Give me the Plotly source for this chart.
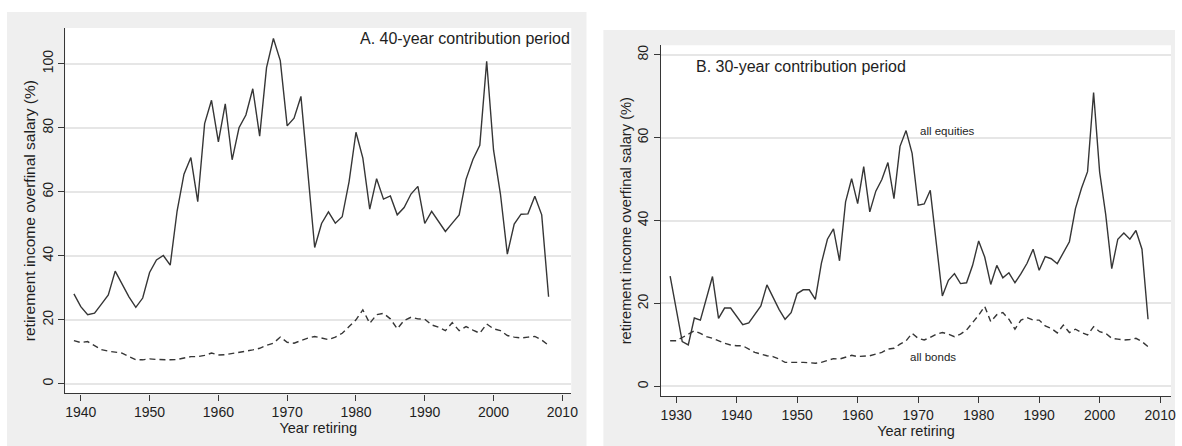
import plotly.graph_objects as go

# ---------------- data ----------------
years_a = list(range(1939, 2009))
equities_a = [28.1, 24.1, 21.6, 22.1, 24.9, 27.8, 35.2, 31.2, 27.2, 23.9,
              26.8, 34.8, 38.7, 40.1, 37.1, 54.0, 65.5, 70.7, 56.9, 81.3,
              88.6, 75.6, 87.5, 70.0, 80.0, 84.0, 92.2, 77.4, 98.8, 107.9,
              101.0, 80.6, 83.0, 89.8, 66.5, 42.6, 50.1, 53.7, 50.2, 52.2,
              63.2, 78.6, 70.5, 54.6, 64.1, 57.7, 58.7, 52.8, 55.1, 59.3,
              61.7, 50.1, 53.9, 50.9, 47.6, 50.2, 52.8, 63.9, 70.1, 74.5,
              100.8, 73.0, 59.3, 40.5, 49.9, 53.0, 53.1, 58.6, 52.8, 27.2]
bonds_a = [13.5, 12.9, 13.2, 12.0, 10.7, 10.2, 9.8, 9.6, 8.5, 7.5,
           7.5, 7.8, 7.6, 7.5, 7.5, 7.6, 8.1, 8.5, 8.5, 8.9,
           9.6, 9.0, 9.1, 9.4, 9.8, 10.2, 10.6, 11.1, 12.0, 12.7,
           14.6, 13.0, 12.7, 13.5, 14.3, 14.8, 14.3, 13.8, 14.6, 15.8,
           17.9, 20.0, 23.1, 18.9, 21.6, 22.0, 20.3, 17.2, 19.8, 20.8,
           20.3, 20.2, 18.4, 17.7, 16.6, 19.1, 16.6, 17.9, 16.8, 15.8,
           18.7, 17.2, 16.6, 15.1, 14.6, 14.3, 14.6, 14.8, 13.7, 12.0]

years_b = list(range(1929, 2009))
equities_b = [26.6, 18.8, 10.8, 10.0, 16.5, 16.0, 21.3, 26.5, 16.4, 18.9,
              18.9, 16.8, 14.9, 15.3, 17.3, 19.4, 24.5, 21.4, 18.6, 16.2,
              17.8, 22.4, 23.3, 23.3, 21.0, 29.7, 35.5, 38.0, 30.3, 44.5,
              50.1, 44.1, 53.0, 42.1, 47.1, 49.9, 54.0, 45.3, 57.9, 61.7,
              56.2, 43.7, 44.0, 47.3, 34.3, 21.8, 25.6, 27.2, 24.8, 25.0,
              29.2, 35.1, 31.2, 24.6, 29.2, 26.2, 27.4, 25.0, 27.2, 29.7,
              33.1, 28.0, 31.3, 30.8, 29.6, 32.3, 34.9, 42.9, 47.8, 51.8,
              70.9, 51.7, 41.5, 28.4, 35.5, 37.0, 35.5, 37.6, 33.1, 16.2]
bonds_b = [11.0, 11.0, 11.8, 12.6, 13.4, 12.8, 12.0, 11.6, 11.0, 10.4,
           10.0, 9.8, 9.8, 9.0, 8.2, 7.8, 7.4, 7.2, 6.6, 5.8,
           5.8, 5.9, 5.8, 5.7, 5.6, 5.8, 6.2, 6.7, 6.6, 7.1,
           7.5, 7.2, 7.3, 7.4, 7.8, 8.2, 9.0, 9.2, 10.2, 11.0,
           12.8, 11.6, 11.2, 11.8, 12.6, 13.0, 12.6, 12.0, 12.6, 13.6,
           15.4, 17.2, 19.3, 15.6, 17.3, 17.8, 16.2, 13.8, 16.0, 16.6,
           16.0, 16.0, 14.6, 14.0, 12.9, 14.8, 13.0, 13.8, 13.0, 12.4,
           14.4, 13.2, 12.8, 11.6, 11.4, 11.2, 11.3, 11.6, 10.8, 9.6]

xticks_a = [1940, 1950, 1960, 1970, 1980, 1990, 2000, 2010]
yticks_a = [0, 20, 40, 60, 80, 100]
xticks_b = [1930, 1940, 1950, 1960, 1970, 1980, 1990, 2000, 2010]
yticks_b = [0, 20, 40, 60, 80]

title_a = "A. 40-year contribution period"
title_b = "B. 30-year contribution period"
ytitle = "retirement income overfinal salary (%)"
xtitle = "Year retiring"

# ---------------- figure ----------------
W, H = 1182, 446
FONT = "Liberation Sans, Arial, sans-serif"
LINE = "#363636"
TXT = "#1e1e1e"
GRID = "#e6e6e6"
PANEL = "#efefef"

fig = go.Figure()
fig.add_trace(go.Scatter(x=years_a, y=equities_a, mode="lines",
                         line=dict(color=LINE, width=1.4), xaxis="x", yaxis="y",
                         showlegend=False, name="all equities"))
fig.add_trace(go.Scatter(x=years_a, y=bonds_a, mode="lines",
                         line=dict(color=LINE, width=1.4, dash="6px,4px"), xaxis="x", yaxis="y",
                         showlegend=False, name="all bonds"))
fig.add_trace(go.Scatter(x=years_b, y=equities_b, mode="lines",
                         line=dict(color=LINE, width=1.4), xaxis="x2", yaxis="y2",
                         showlegend=False, name="all equities"))
fig.add_trace(go.Scatter(x=years_b, y=bonds_b, mode="lines",
                         line=dict(color=LINE, width=1.4, dash="6px,4px"), xaxis="x2", yaxis="y2",
                         showlegend=False, name="all bonds"))

def xax(domain, rng, ticks, anchor, tsize):
    return dict(domain=domain, range=rng, anchor=anchor, tickvals=ticks,
                showgrid=False, zeroline=False, showline=True, linecolor=LINE, linewidth=1.3,
                ticks="outside", ticklen=6, tickcolor=LINE, tickwidth=1.2,
                tickfont=dict(family=FONT, size=14, color=TXT),
                title=dict(text=xtitle, font=dict(family=FONT, size=tsize, color=TXT), standoff=0))

def yax(domain, rng, ticks, anchor, tsize):
    return dict(domain=domain, range=rng, anchor=anchor, tickvals=ticks, tickangle=-90,
                showgrid=True, gridcolor=GRID, gridwidth=1.5, zeroline=False,
                showline=True, linecolor=LINE, linewidth=1.3,
                ticks="outside", ticklen=6, tickcolor=LINE, tickwidth=1.2,
                tickfont=dict(family=FONT, size=14, color=TXT),
                title=dict(text=ytitle, font=dict(family=FONT, size=tsize, color=TXT), standoff=0))

fig.update_layout(
    width=W, height=H,
    margin=dict(l=0, r=0, t=0, b=0),
    paper_bgcolor="white", plot_bgcolor="white",
    xaxis=xax([65.7 / W, 574.7 / W], [1937.75, 2011.3], xticks_a, "y", 14.5),
    yaxis=yax([1 - 393.3 / H, 1 - 27 / H], [-3.0, 111.2], yticks_a, "x", 15.5),
    xaxis2=xax([665 / W, 1178 / W], [1927.5, 2011.8], xticks_b, "y2", 14.5),
    yaxis2=yax([1 - 396 / H, 1 - 44.3 / H], [-2.34, 82.3], yticks_b, "x2", 14.7),
    shapes=[
        dict(type="rect", xref="paper", yref="paper", x0=7 / W, x1=590 / W, y0=0, y1=1 - 11 / H,
             fillcolor=PANEL, line=dict(width=0), layer="below"),
        dict(type="rect", xref="paper", yref="paper", x0=607 / W, x1=1, y0=0, y1=1 - 29 / H,
             fillcolor=PANEL, line=dict(width=0), layer="below"),
        dict(type="rect", xref="x domain", yref="y domain", x0=0, x1=1, y0=0, y1=1,
             fillcolor="white", line=dict(width=0), layer="below"),
        dict(type="rect", xref="x2 domain", yref="y2 domain", x0=0, x1=1, y0=0, y1=1,
             fillcolor="white", line=dict(width=0), layer="below"),
    ],
    annotations=[
        dict(text=title_a, xref="x domain", yref="y domain", x=1.002, y=0.970,
             xanchor="right", yanchor="middle", showarrow=False,
             font=dict(family=FONT, size=16, color=TXT)),
        dict(text=title_b, xref="x2 domain", yref="y2 domain", x=0.0643, y=0.939,
             xanchor="left", yanchor="middle", showarrow=False,
             font=dict(family=FONT, size=16, color=TXT)),
        dict(text="all equities", xref="x2", yref="y2", x=1969.9, y=61.5,
             xanchor="left", yanchor="middle", showarrow=False,
             font=dict(family=FONT, size=11.5, color=TXT)),
        dict(text="all bonds", xref="x2", yref="y2", x=1968.4, y=7.1,
             xanchor="left", yanchor="middle", showarrow=False,
             font=dict(family=FONT, size=11.5, color=TXT)),
    ],
)

fig.write_html("out.html", config={"displayModeBar": False},
               post_script="document.body.style.margin='0';document.body.style.overflow='hidden';")
